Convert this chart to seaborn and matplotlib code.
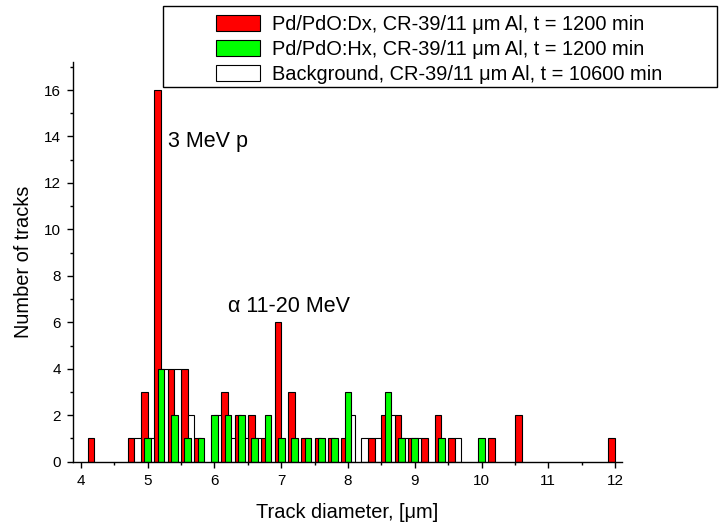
import matplotlib
matplotlib.use('Agg')
import matplotlib.pyplot as plt
from matplotlib.patches import Patch, Rectangle
from matplotlib.ticker import MultipleLocator
import seaborn as sns
import numpy as np
import pandas as pd

sns.set_style('ticks')
plt.rcParams['font.family'] = ['Liberation Sans', 'DejaVu Sans']
plt.rcParams['text.color'] = 'black'
plt.rcParams['axes.labelcolor'] = 'black'
plt.rcParams['xtick.color'] = 'black'
plt.rcParams['ytick.color'] = 'black'

# bin centres (track diameter, um) and counts per series
centers = [4.2, 4.8, 5.0, 5.2, 5.4, 5.6, 5.8, 6.0, 6.2, 6.4, 6.6, 6.8, 7.0, 7.2, 7.4,
           7.6, 7.8, 8.0, 8.2, 8.4, 8.6, 8.8, 9.0, 9.2, 9.4, 9.6, 10.0, 10.2, 10.6, 12.0]
counts_dx = [1, 1, 3, 16, 4, 4, 1, 0, 3, 2, 2, 1, 6, 3, 1,
             1, 1, 1, 0, 1, 2, 2, 1, 1, 2, 1, 0, 1, 2, 1]
counts_hx = [0, 0, 1, 4, 2, 1, 1, 2, 2, 2, 1, 2, 1, 1, 1,
             1, 1, 3, 0, 0, 3, 1, 1, 0, 1, 0, 1, 0, 0, 0]
counts_bg = [0, 1, 1, 4, 4, 2, 0, 2, 1, 1, 1, 0, 0, 0, 0,
             0, 0, 2, 1, 1, 2, 1, 1, 0, 0, 1, 0, 0, 0, 0]

labels = ['Pd/PdO:Dx, CR-39/11 \u03bcm Al, t = 1200 min',
          'Pd/PdO:Hx, CR-39/11 \u03bcm Al, t = 1200 min',
          'Background, CR-39/11 \u03bcm Al, t = 10600 min']
colors = ['#FF0000', '#00FF00', '#FFFFFF']

W, H = 719, 526
fig = plt.figure(figsize=(W / 100, H / 100), dpi=100)
ax = fig.add_axes([73.3 / W, 1 - 461.7 / H, (621.7 - 73.3) / W, 400 / H])

base_edges = np.arange(4.1, 12.11, 0.2)
# series are offset within each 0.2 bin: red left, green middle, white right
for counts, col, off in [(counts_dx, colors[0], -0.05),
                         (counts_bg, colors[2], 0.05),
                         (counts_hx, colors[1], 0.0)]:
    df = pd.DataFrame({'d': centers, 'n': counts})
    sns.histplot(data=df, x='d', weights='n', bins=list(np.round(base_edges + off, 3)),
                 shrink=0.5, color=col, edgecolor='black', linewidth=0.8, alpha=1, ax=ax)

# drop empty bins so they do not thicken the baseline
for p in list(ax.patches):
    if p.get_height() == 0:
        p.remove()

ax.set_xlim(3.885, 12.1)
ax.set_ylim(0, 17.22)
ax.xaxis.set_major_locator(MultipleLocator(1))
ax.xaxis.set_minor_locator(MultipleLocator(0.5))
ax.yaxis.set_major_locator(MultipleLocator(2))
ax.yaxis.set_minor_locator(MultipleLocator(1))
ax.tick_params(which='both', direction='out', width=1, labelsize=11, pad=4.5)
ax.tick_params(which='major', length=4.5)
ax.tick_params(which='minor', length=2.5)
sns.despine(ax=ax)
for s in ['left', 'bottom']:
    ax.spines[s].set_linewidth(1.0)
    ax.spines[s].set_color('black')

ax.set_xlabel('Track diameter, [\u03bcm]', fontsize=14.4, labelpad=11)
ax.set_ylabel('Number of tracks', fontsize=14.4, labelpad=8)

ax.text(5.31, 13.53, '3 MeV p', fontsize=15.5, ha='left', va='baseline')
ax.text(6.2, 6.46, '\u03b1 11-20 MeV', fontsize=15.5, ha='left', va='baseline')

handles = [Patch(facecolor=c, edgecolor='black', linewidth=0.8) for c in colors]
fig.legend(handles, labels, loc='upper left', bbox_to_anchor=(206 / W, 1 - 5 / H),
           frameon=False, fontsize=14.4, borderpad=0, handlelength=2.2,
           handleheight=0.8, handletextpad=0.6, labelspacing=0.3)
fig.add_artist(Rectangle((163 / W, 1 - 87 / H), (717 - 163) / W, 81 / H,
                         transform=fig.transFigure, fill=False,
                         edgecolor='black', linewidth=1.0))

fig.savefig('out.png', dpi=100)
